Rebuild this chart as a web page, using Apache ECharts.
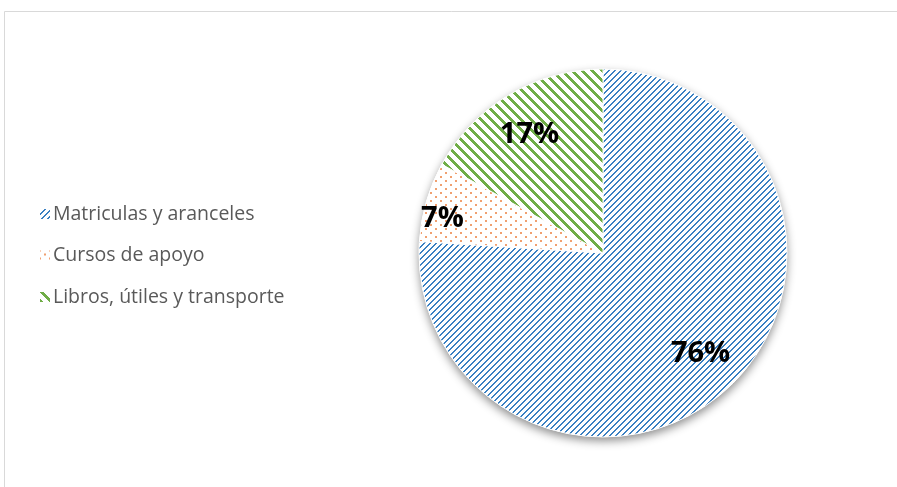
<!DOCTYPE html>
<html><head><meta charset="utf-8">
<script src="https://cdn.jsdelivr.net/npm/echarts@6/dist/echarts.min.js"></script>
<style>html,body{margin:0;padding:0;background:#fff}#c{width:897px;height:487px}</style>
</head><body><div id="c"></div>
<script>
const categories = ['Matriculas y aranceles', 'Cursos de apoyo', 'Libros, útiles y transporte'];
const values = [76, 7, 17];
const labelTexts = ['76%', '7%', '17%'];

function makePattern(w, h, fn, color) {
  const c = document.createElement('canvas');
  c.width = w; c.height = h;
  const ctx = c.getContext('2d');
  ctx.fillStyle = '#fff'; ctx.fillRect(0, 0, w, h);
  ctx.fillStyle = color;
  for (let x = 0; x < w; x++) for (let y = 0; y < h; y++) if (fn(x, y)) ctx.fillRect(x, y, 1, 1);
  return { image: c, repeat: 'repeat' };
}
const blue = makePattern(6, 6, (x, y) => ((x + y) % 6) < 2, '#3A80C2');
const orange = makePattern(10, 8, (x, y) => (x < 2 && y < 2) || (x >= 5 && x < 7 && y >= 4 && y < 6), '#F0A070');
const green = makePattern(10, 10, (x, y) => (((x - y) % 10) + 10) % 10 < 4, '#70AD47');
const fills = [blue, orange, green];
const labelRadial = [0.75, 0.88, 0.76];
const labelShiftY = [-3, 12, 6];

const cx = 603, cy = 253, R = 184;
const chart = echarts.init(document.getElementById('c'), null, { renderer: 'canvas' });
chart.setOption({
  animation: false,
  backgroundColor: '#fff',
  graphic: [{
    type: 'polyline', silent: true, z: -10,
    shape: { points: [[4.5, 500], [4.5, 11.5], [900, 11.5]] },
    style: { stroke: '#d9d9d9', lineWidth: 1, fill: null }
  }],
  legend: {
    orient: 'vertical', left: 33, top: 199,
    itemWidth: 12, itemHeight: 12, itemGap: 21.5,
    icon: 'rect',
    data: categories,
    textStyle: { fontFamily: 'Open Sans', fontSize: 19.5, lineHeight: 20, color: '#595959', padding: [0, 0, 0, -3] }
  },
  series: [{
    type: 'pie', silent: true, z: 1,
    center: [cx, cy], radius: R,
    label: { show: false }, labelLine: { show: false },
    itemStyle: { color: '#fff', shadowBlur: 10, shadowOffsetY: 4, shadowColor: 'rgba(0,0,0,0.45)' },
    data: [{ value: 1, name: '_bg' }]
  }, {
    type: 'pie', z: 2,
    center: [cx, cy], radius: R,
    startAngle: 90, clockwise: true,
    data: categories.map((n, i) => ({ name: n, value: values[i], itemStyle: { color: fills[i] } })),
    itemStyle: { borderColor: '#fff', borderWidth: 1 },
    label: {
      show: true, position: 'inside',
      formatter: p => labelTexts[p.dataIndex],
      fontFamily: 'Open Sans', fontWeight: 'bold', fontSize: 29, color: '#000'
    },
    labelLine: { show: false },
    labelLayout: function (p) {
      const r = p.labelRect;
      const x = r.x + r.width / 2, y = r.y + r.height / 2;
      const k = labelRadial[p.dataIndex] / 0.5 - 1;
      return { dx: (x - cx) * k, dy: (y - cy) * k + labelShiftY[p.dataIndex] };
    }
  }]
});
</script></body></html>
